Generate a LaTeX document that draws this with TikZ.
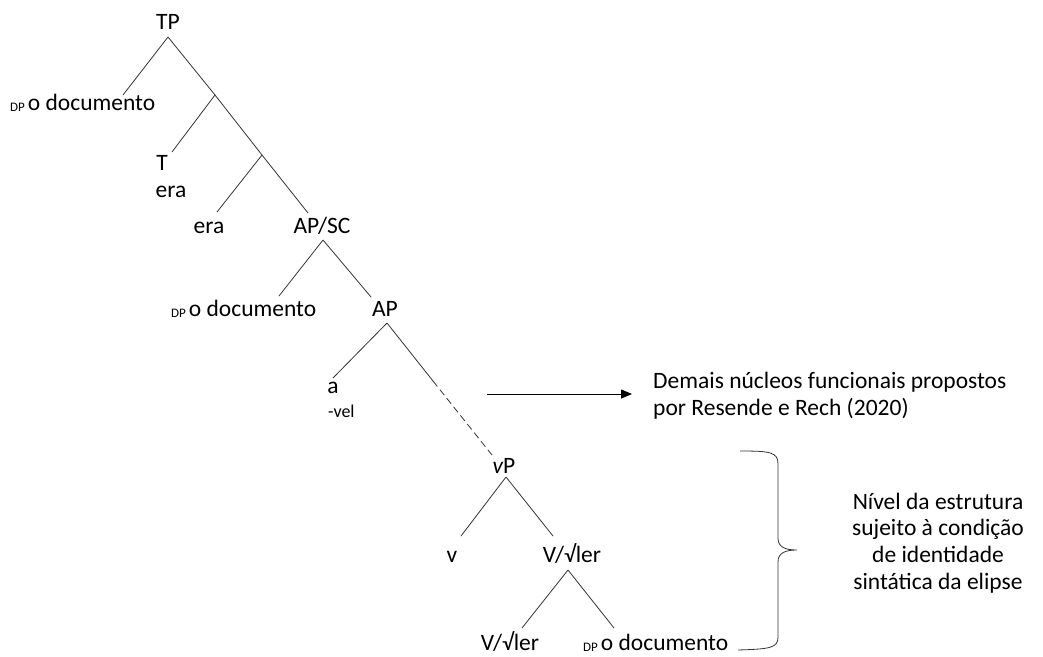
\documentclass[tikz,border=0pt]{standalone}
\usepackage{fontspec}
\setmainfont{Carlito}
\usetikzlibrary{arrows.meta}
\tikzset{
    lbl/.style={inner sep=0pt, anchor=base, font=\fontsize{23.5}{26.7}\selectfont},
    smalllbl/.style={inner sep=0pt, anchor=base west, font=\fontsize{18}{20}\selectfont},
    branch/.style={draw=black!80, line width=0.8pt},
    elided/.style={branch, dash pattern=on 7pt off 4pt},
    pointer/.style={draw=black, line width=0.8pt, -{Triangle[length=11pt,width=9pt]}},
    bracket/.style={draw=black!80, line width=0.8pt}}
\newcommand{\dplabel}{\raisebox{-1.5pt}{\fontsize{13}{13}\selectfont DP}\kern3pt}

\begin{document}
\begin{tikzpicture}[x=1pt, y=-1pt]

            \useasboundingbox (0,0) rectangle (1043,656);

            \node[lbl] (TP) at (168,29) {TP};
            \node[lbl, anchor=base west] (DPa) at (10,110) {\dplabel o documento};
            \node[lbl] (T) at (162,170) {T};
            \node[lbl] (Tera) at (171,197) {era};
            \node[lbl] (era) at (209,233) {era};
            \node[lbl] (APSC) at (322,233) {AP/SC};
            \node[lbl, anchor=base west] (DPb) at (171,316) {\dplabel o documento};
            \node[lbl] (AP) at (385,316) {AP};
            \node[lbl] (a) at (333,393) {a};
            \node[smalllbl] (vel) at (328,417) {-vel};
            \node[lbl] (vP) at (504,473) {{\itshape v}P};
            \node[lbl] (v) at (452,562) {v};
            \node[lbl] (Vler) at (572,562) {V/√ler};
            \node[lbl] (Vlerb) at (510,650) {V/√ler};
            \node[lbl, anchor=base west] (DPc) at (583,650) {\dplabel o documento};

            \node[lbl, anchor=west, align=left] (demais) at (653,396) {Demais núcleos funcionais propostos\\por Resende e Rech (2020)};
            \node[lbl, anchor=center, align=center] (nivel) at (938,543) {Nível da estrutura\\sujeito à condição\\de identidade\\sintática da elipse};

            \coordinate (tp-top) at (168,37);
            \coordinate (dpa-end) at (123,95);
            \coordinate (j1) at (215,95);
            \coordinate (t-end) at (172,152);
            \coordinate (j2) at (262,155);
            \coordinate (era-end) at (217,212);
            \coordinate (apsc-end) at (308,213);
            \coordinate (apsc-top) at (323,240);
            \coordinate (dpb-end) at (279,296);
            \coordinate (ap-end) at (371,297);
            \coordinate (ap-top) at (387,323);
            \coordinate (a-end) at (333,378);
            \coordinate (cut) at (433,381);
            \coordinate (vp-end) at (492,455);
            \coordinate (vp-top) at (506,477);
            \coordinate (v-end) at (461,536);
            \coordinate (vler-end) at (553,536);
            \coordinate (vler-top) at (568,570);
            \coordinate (vlerb-end) at (522,628);
            \coordinate (dpc-end) at (614,628);
            \coordinate (arr-start) at (487,394);

            \draw[branch] (tp-top) -- (dpa-end);
            \draw[branch] (tp-top) -- (j1) -- (j2) -- (apsc-end);
            \draw[branch] (j1) -- (t-end);
            \draw[branch] (j2) -- (era-end);
            \draw[branch] (apsc-top) -- (dpb-end);
            \draw[branch] (apsc-top) -- (ap-end);
            \draw[branch] (ap-top) -- (a-end);
            \draw[branch] (ap-top) -- (cut);
            \draw[elided] (cut) -- (vp-end);
            \draw[branch] (vp-top) -- (v-end);
            \draw[branch] (vp-top) -- (vler-end);
            \draw[branch] (vler-top) -- (vlerb-end);
            \draw[branch] (vler-top) -- (dpc-end);

            \draw[pointer] (arr-start) -- (632,394);

            \draw[bracket] (740,451) .. controls (770,451) and (778,452) .. (778,464)
                -- (778,538) .. controls (778,547) and (785,550) .. (797,550)
                .. controls (785,550) and (778,553) .. (778,562)
                -- (778,637) .. controls (778,648) and (770,649) .. (738,650);

        \end{tikzpicture}
\end{document}
